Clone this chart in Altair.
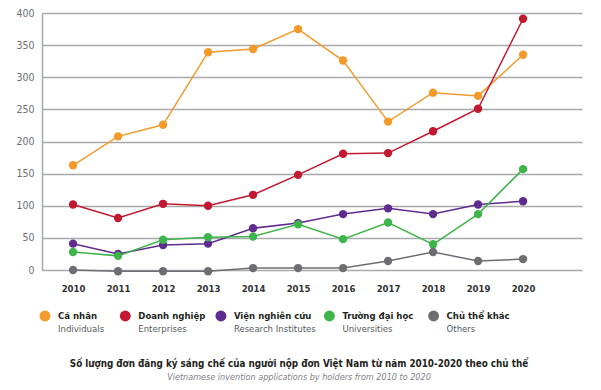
import altair as alt
import pandas as pd

years = [2010, 2011, 2012, 2013, 2014, 2015, 2016, 2017, 2018, 2019, 2020]
names = ["Cá nhân", "Doanh nghiệp", "Viện nghiên cứu", "Trường đại học", "Chủ thể khác"]
eng_names = ["Individuals", "Enterprises", "Research Institutes", "Universities", "Others"]
colors = ["#F39A2B", "#C1192F", "#5E2B8F", "#3DB54A", "#6D6E71"]

ca_nhan = [163, 208, 226, 339, 344, 375, 326, 231, 276, 271, 335]
doanh_nghiep = [102, 81, 103, 100, 117, 148, 181, 182, 216, 251, 391]
vien_nghien_cuu = [41, 25, 39, 41, 65, 73, 87, 96, 87, 102, 107]
truong_dai_hoc = [28, 22, 47, 51, 52, 71, 48, 74, 40, 87, 157]
chu_the_khac = [0, -2, -2, -2, 3, 3, 3, 14, 28, 14, 17]

series = [ca_nhan, doanh_nghiep, vien_nghien_cuu, truong_dai_hoc, chu_the_khac]
rows = []
for n, vals in zip(names, series):
    for y, v in zip(years, vals):
        rows.append({"year": y, "value": v, "holder": n})
df = pd.DataFrame(rows)

legend_df = pd.DataFrame({"holder": names, "eng": eng_names, "order": list(range(len(names)))})

FONT = "DejaVu Sans Condensed, Roboto, sans-serif"

color = alt.Color("holder:N", scale=alt.Scale(domain=names, range=colors), legend=None)

base = alt.Chart(df).encode(
    x=alt.X("year:Q", scale=alt.Scale(domain=[2009.31, 2021.31], nice=False, zero=False),
            axis=alt.Axis(values=years, format="d", title=None, grid=False, domain=False,
                          ticks=False, labelFontWeight="bold", labelFontSize=9.5,
                          labelColor="#333333", labelPadding=13, labelFont=FONT)),
    y=alt.Y("value:Q", scale=alt.Scale(domain=[0, 400], nice=False),
            axis=alt.Axis(values=[0, 50, 100, 150, 200, 250, 300, 350, 400], title=None,
                          grid=True, gridColor="#A7A9AC", gridWidth=1.5, domain=True,
                          domainColor="#A7A9AC", domainWidth=1.5, ticks=False,
                          labelFontSize=10.5, labelColor="#6D6E71", labelPadding=8,
                          labelFont=FONT)),
    color=color,
)

lines = base.mark_line(strokeWidth=1.5, clip=False)
points = base.mark_circle(size=70, opacity=1, clip=False)

main = (lines + points).properties(width=540, height=257)

# flow layout of the legend entries, derived from the label lengths
leg_base = alt.Chart(legend_df).transform_calculate(
    w="44 + max(length(datum.holder) * 4.3, length(datum.eng) * 3.3)"
).transform_window(
    cum="sum(w)", sort=[alt.SortField(field="order", order="ascending")], frame=[None, 0]
).transform_calculate(
    pos="3 + datum.cum - datum.w"
).encode(
    x=alt.X("pos:Q", scale=alt.Scale(domain=[0, 540], nice=False), axis=None),
)
leg_dots = leg_base.mark_circle(size=120, opacity=1).encode(y=alt.value(14), color=color)
leg_name = leg_base.mark_text(align="left", baseline="middle", dx=13, fontSize=9.5,
                              fontWeight="bold", color="#231F20", font=FONT).encode(
    y=alt.value(14), text="holder:N")
leg_eng = leg_base.mark_text(align="left", baseline="middle", dx=13, dy=13, fontSize=9.5,
                             color="#58595B", font=FONT).encode(y=alt.value(14), text="eng:N")
legend = (leg_dots + leg_name + leg_eng).properties(width=540, height=30)

chart = alt.vconcat(main, legend, spacing=9).properties(
    padding={"top": 0, "left": 7, "right": 5, "bottom": 5},
    title=alt.TitleParams(
        text="Số lượng đơn đăng ký sáng chế của người nộp đơn Việt Nam từ năm 2010-2020 theo chủ thể",
        subtitle="Vietnamese invention applications by holders from 2010 to 2020",
        orient="bottom", anchor="middle", fontSize=9.8, fontWeight="bold", color="#231F20",
        font=FONT, subtitleFont=FONT, subtitleFontSize=9, subtitleFontStyle="italic",
        subtitleColor="#808285", offset=25, subtitlePadding=5,
    )
).configure(background="white").configure_view(stroke=None)

chart.save("out.html", embed_options={"renderer": "svg", "actions": False})
